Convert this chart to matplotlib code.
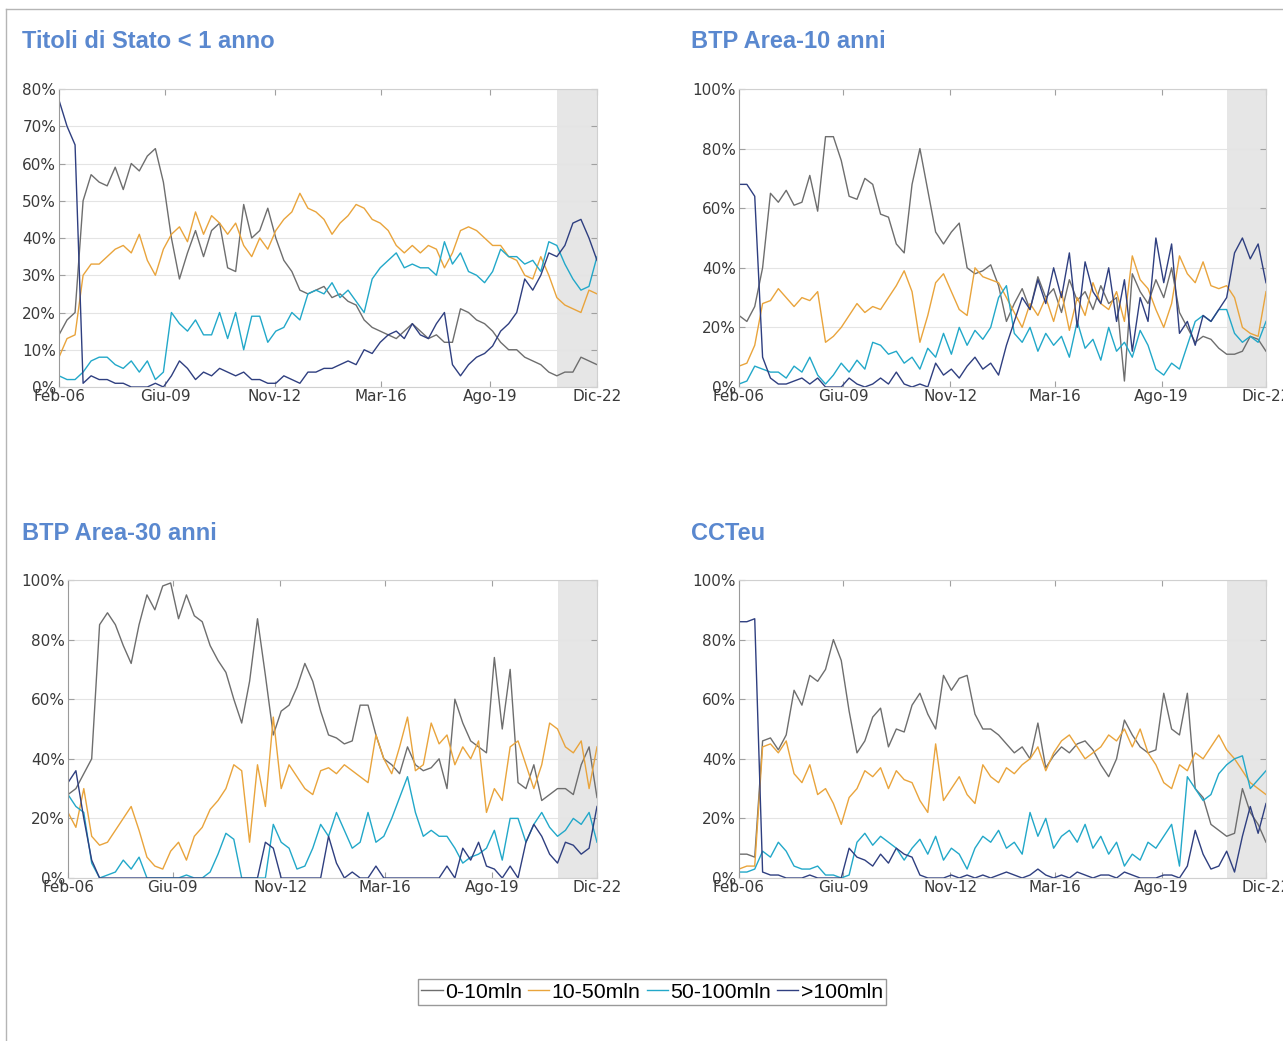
import numpy as np
import pandas as pd
import matplotlib
matplotlib.use('Agg')
import matplotlib.pyplot as plt
from matplotlib.lines import Line2D
from matplotlib.ticker import FuncFormatter, MultipleLocator

# quote di scambi per fascia di controvalore (%), campionate ogni ~3 mesi
dates = pd.date_range('2006-02-01', '2022-12-01', periods=68)
tick_dates = pd.to_datetime(['2006-02-01', '2009-06-01', '2012-11-01',
                             '2016-03-01', '2019-08-01', '2022-12-01'])
tick_labels = ['Feb-06', 'Giu-09', 'Nov-12', 'Mar-16', 'Ago-19', 'Dic-22']
shade_start = pd.Timestamp('2021-09-01')

series_names = ['0-10mln', '10-50mln', '50-100mln', '>100mln']
colors = ['#6e6e6e', '#e9a43c', '#22a8c9', '#2f3f80']

titles = ['Titoli di Stato < 1 anno', 'BTP Area-10 anni', 'BTP Area-30 anni', 'CCTeu']

# Titoli di Stato < 1 anno
bot_0_10 = [14, 18, 20, 50, 57, 55, 54, 59, 53, 60,
            58, 62, 64, 55, 40, 29, 36, 42, 35, 42,
            44, 32, 31, 49, 40, 42, 48, 40, 34, 31,
            26, 25, 26, 27, 24, 25, 23, 22, 18, 16,
            15, 14, 13, 15, 17, 15, 13, 14, 12, 12,
            21, 20, 18, 17, 15, 12, 10, 10, 8, 7,
            6, 4, 3, 4, 4, 8, 7, 6]
bot_10_50 = [8, 13, 14, 30, 33, 33, 35, 37, 38, 36,
             41, 34, 30, 37, 41, 43, 39, 47, 41, 46,
             44, 41, 44, 38, 35, 40, 37, 42, 45, 47,
             52, 48, 47, 45, 41, 44, 46, 49, 48, 45,
             44, 42, 38, 36, 38, 36, 38, 37, 32, 36,
             42, 43, 42, 40, 38, 38, 35, 34, 30, 29,
             35, 30, 24, 22, 21, 20, 26, 25]
bot_50_100 = [3, 2, 2, 4, 7, 8, 8, 6, 5, 7,
              4, 7, 2, 4, 20, 17, 15, 18, 14, 14,
              20, 13, 20, 10, 19, 19, 12, 15, 16, 20,
              18, 25, 26, 25, 28, 24, 26, 23, 20, 29,
              32, 34, 36, 32, 33, 32, 32, 30, 39, 33,
              36, 31, 30, 28, 31, 37, 35, 35, 33, 34,
              31, 39, 38, 33, 29, 26, 27, 35]
bot_100 = [77, 70, 65, 1, 3, 2, 2, 1, 1, 0,
           0, 0, 1, 0, 3, 7, 5, 2, 4, 3,
           5, 4, 3, 4, 2, 2, 1, 1, 3, 2,
           1, 4, 4, 5, 5, 6, 7, 6, 10, 9,
           12, 14, 15, 13, 17, 14, 13, 17, 20, 6,
           3, 6, 8, 9, 11, 15, 17, 20, 29, 26,
           30, 36, 35, 38, 44, 45, 40, 34]

# BTP Area-10 anni
btp10_0_10 = [24, 22, 27, 40, 65, 62, 66, 61, 62, 71,
              59, 84, 84, 76, 64, 63, 70, 68, 58, 57,
              48, 45, 68, 80, 66, 52, 48, 52, 55, 40,
              38, 39, 41, 34, 22, 28, 33, 26, 37, 30,
              33, 25, 36, 29, 32, 26, 34, 28, 30, 2,
              38, 32, 28, 36, 30, 40, 25, 20, 15, 17,
              16, 13, 11, 11, 12, 17, 16, 12]
btp10_10_50 = [7, 8, 14, 28, 29, 33, 30, 27, 30, 29,
               32, 15, 17, 20, 24, 28, 25, 27, 26, 30,
               34, 39, 32, 15, 24, 35, 38, 32, 26, 24,
               40, 37, 36, 35, 30, 25, 20, 28, 24, 30,
               22, 32, 19, 30, 24, 35, 28, 26, 32, 22,
               44, 36, 33, 26, 20, 28, 44, 38, 35, 42,
               34, 33, 34, 30, 20, 18, 17, 32]
btp10_50_100 = [1, 2, 7, 6, 5, 5, 3, 7, 5, 10,
                4, 1, 4, 8, 5, 9, 6, 15, 14, 11,
                12, 8, 10, 6, 13, 10, 18, 11, 20, 14,
                19, 16, 20, 30, 34, 18, 15, 20, 12, 18,
                14, 17, 10, 22, 13, 16, 9, 20, 12, 15,
                10, 19, 14, 6, 4, 8, 6, 14, 22, 24,
                22, 26, 26, 18, 15, 17, 15, 22]
btp10_100 = [68, 68, 64, 10, 3, 1, 1, 2, 3, 1,
             3, 0, 0, 0, 3, 1, 0, 1, 3, 1,
             5, 1, 0, 1, 0, 8, 4, 6, 3, 7,
             10, 6, 8, 4, 14, 22, 30, 26, 36, 28,
             40, 30, 45, 20, 42, 32, 28, 40, 22, 36,
             12, 30, 22, 50, 35, 48, 18, 22, 14, 24,
             22, 26, 30, 45, 50, 43, 48, 35]

# BTP Area-30 anni
btp30_0_10 = [28, 30, 35, 40, 85, 89, 85, 78, 72, 85,
              95, 90, 98, 99, 87, 95, 88, 86, 78, 73,
              69, 60, 52, 66, 87, 68, 48, 56, 58, 64,
              72, 66, 56, 48, 47, 45, 46, 58, 58, 48,
              40, 38, 35, 44, 38, 36, 37, 40, 30, 60,
              52, 46, 44, 42, 74, 50, 70, 32, 30, 38,
              26, 28, 30, 30, 28, 38, 44, 27]
btp30_10_50 = [22, 17, 30, 14, 11, 12, 16, 20, 24, 16,
               7, 4, 3, 9, 12, 6, 14, 17, 23, 26,
               30, 38, 36, 12, 38, 24, 54, 30, 38, 34,
               30, 28, 36, 37, 35, 38, 36, 34, 32, 48,
               40, 35, 44, 54, 36, 38, 52, 45, 48, 38,
               44, 40, 46, 22, 30, 26, 44, 46, 38, 30,
               38, 52, 50, 44, 42, 46, 30, 44]
btp30_50_100 = [28, 24, 22, 5, 0, 1, 2, 6, 3, 7,
                0, 0, 0, 0, 0, 1, 0, 0, 2, 8,
                15, 13, 0, 0, 0, 0, 18, 12, 10, 3,
                4, 10, 18, 14, 22, 16, 10, 12, 22, 12,
                14, 20, 27, 34, 22, 14, 16, 14, 14, 10,
                5, 7, 8, 10, 16, 6, 20, 20, 12, 18,
                22, 17, 14, 16, 20, 18, 22, 12]
btp30_100 = [32, 36, 20, 6, 0, 0, 0, 0, 0, 0,
             0, 0, 0, 0, 0, 0, 0, 0, 0, 0,
             0, 0, 0, 0, 0, 12, 10, 0, 0, 0,
             0, 0, 0, 14, 5, 0, 2, 0, 0, 4,
             0, 0, 0, 0, 0, 0, 0, 0, 4, 0,
             10, 6, 12, 4, 3, 0, 4, 0, 12, 18,
             14, 8, 5, 12, 11, 8, 10, 24]

# CCTeu
cct_0_10 = [8, 8, 7, 46, 47, 43, 48, 63, 58, 68,
            66, 70, 80, 73, 56, 42, 46, 54, 57, 44,
            50, 49, 58, 62, 55, 50, 68, 63, 67, 68,
            55, 50, 50, 48, 45, 42, 44, 40, 52, 37,
            41, 44, 42, 45, 46, 43, 38, 34, 40, 53,
            48, 44, 42, 43, 62, 50, 48, 62, 30, 27,
            18, 16, 14, 15, 30, 22, 18, 12]
cct_10_50 = [3, 4, 4, 44, 45, 42, 46, 35, 32, 38,
             28, 30, 25, 18, 27, 30, 36, 34, 37, 30,
             36, 33, 32, 26, 22, 45, 26, 30, 34, 28,
             25, 38, 34, 32, 37, 35, 38, 40, 44, 36,
             42, 46, 48, 44, 40, 42, 44, 48, 46, 50,
             44, 50, 42, 38, 32, 30, 38, 36, 42, 40,
             44, 48, 43, 40, 36, 32, 30, 28]
cct_50_100 = [2, 2, 3, 9, 7, 12, 9, 4, 3, 3,
              4, 1, 1, 0, 1, 12, 15, 11, 14, 12,
              10, 6, 10, 13, 8, 14, 6, 10, 8, 3,
              10, 14, 12, 16, 10, 12, 8, 22, 14, 20,
              10, 14, 16, 12, 18, 10, 14, 8, 12, 4,
              8, 6, 12, 10, 14, 18, 4, 34, 30, 26,
              28, 35, 38, 40, 41, 30, 33, 36]
cct_100 = [86, 86, 87, 2, 1, 1, 0, 0, 0, 1,
           0, 0, 0, 0, 10, 7, 6, 4, 8, 5,
           10, 8, 7, 1, 0, 0, 0, 1, 0, 1,
           0, 1, 0, 1, 2, 1, 0, 1, 3, 1,
           0, 1, 0, 2, 1, 0, 1, 1, 0, 2,
           1, 0, 0, 0, 1, 1, 0, 4, 16, 8,
           3, 4, 9, 2, 14, 24, 15, 25]

panels = [
    (titles[0], [bot_0_10, bot_10_50, bot_50_100, bot_100], 80, 10),
    (titles[1], [btp10_0_10, btp10_10_50, btp10_50_100, btp10_100], 100, 20),
    (titles[2], [btp30_0_10, btp30_10_50, btp30_50_100, btp30_100], 100, 20),
    (titles[3], [cct_0_10, cct_10_50, cct_50_100, cct_100], 100, 20),
]

W, H = 1283, 1041
fig = plt.figure(figsize=(W / 100, H / 100), dpi=100)

# axes boxes in pixels: left, top, right, bottom
boxes = [(59, 89, 597, 387), (739, 89, 1266, 387),
         (68, 580, 597, 878), (739, 580, 1266, 878)]
title_pos = [(22, 41), (691, 41), (22, 533), (691, 533)]

for (title, data, ymax, ystep), (l, t, r, b), (tx, ty) in zip(panels, boxes, title_pos):
    ax = fig.add_axes([l / W, 1 - b / H, (r - l) / W, (b - t) / H])
    ax.axvspan(shade_start, dates[-1], color='#e6e6e6', lw=0, zorder=0)
    for vals, c in zip(data, colors):
        ax.plot(dates, vals, color=c, lw=1.0, zorder=2)
    ax.set_xlim(dates[0], dates[-1])
    ax.set_ylim(0, ymax)
    ax.yaxis.set_major_locator(MultipleLocator(ystep))
    ax.yaxis.set_major_formatter(FuncFormatter(lambda v, p: f'{v:.0f}%'))
    ax.set_xticks(tick_dates)
    ax.set_xticklabels(tick_labels)
    ax.tick_params(direction='in', length=4, width=0.8, color='#a0a0a0',
                   top=True, right=True, labelsize=11, labelcolor='#3a3a3a')
    ax.tick_params(axis='x', pad=1.5)
    ax.tick_params(axis='y', pad=2)
    ax.grid(axis='y', color='#e4e4e4', lw=0.8)
    ax.set_axisbelow(True)
    for s in ax.spines.values():
        s.set_color('#d0d0d0')
        s.set_linewidth(0.8)
    ax.spines['left'].set_color('#9a9a9a')
    fig.text(tx / W, 1 - ty / H, title, ha='left', va='center',
             fontsize=17, fontweight='bold', color='#5a88cf',
             family='Liberation Sans')

handles = [Line2D([], [], color=c, lw=1.0) for c in colors]
fig.legend(handles, series_names, loc='center', bbox_to_anchor=(652 / W, 1 - 992 / H),
           ncol=4, frameon=True, fancybox=False, edgecolor='#808080',
           handlelength=1.0, handletextpad=0.1, columnspacing=0.3,
           borderpad=0.15, borderaxespad=0,
           prop={'family': 'Liberation Sans', 'size': 15.3})

# outer frame (top and left edges)
fig.add_artist(Line2D([6 / W, 1], [1 - 9 / H, 1 - 9 / H], transform=fig.transFigure,
                      color='#b5b5b5', lw=1))
fig.add_artist(Line2D([6 / W, 6 / W], [0, 1 - 9 / H], transform=fig.transFigure,
                      color='#b5b5b5', lw=1))

fig.savefig('out.png', dpi=100, facecolor='white')
